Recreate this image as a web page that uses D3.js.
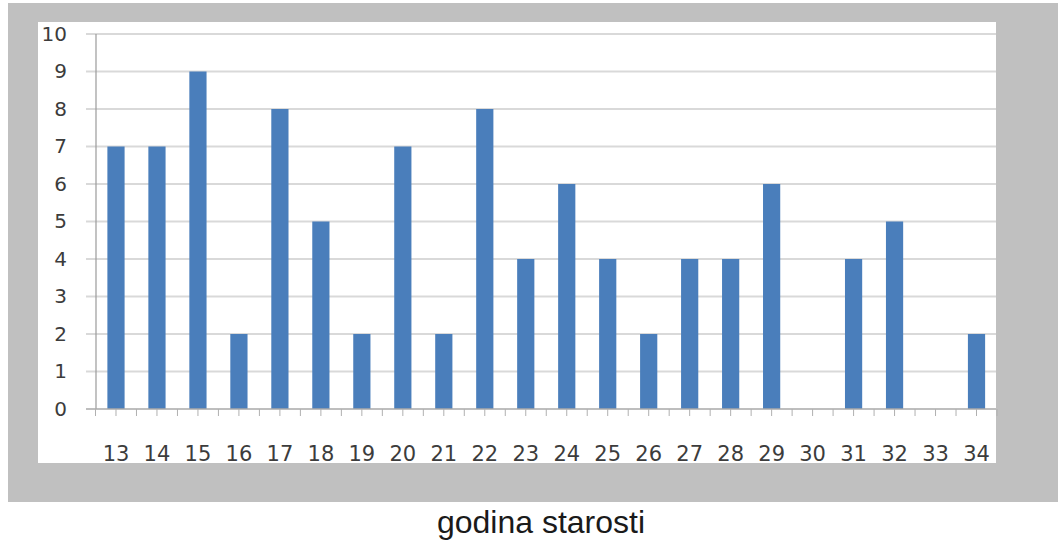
<!DOCTYPE html>
<html>
<head>
<meta charset="utf-8">
<script src="https://cdn.jsdelivr.net/npm/d3@7"></script>
<style>
  html, body { margin: 0; padding: 0; background: #ffffff; }
  svg { display: block; }
</style>
</head>
<body>
<svg id="chart" width="1058" height="540"></svg>
<script>
// ---- data ----
const categories = ["13","14","15","16","17","18","19","20","21","22","23","24","25","26","27","28","29","30","31","32","33","34"];
const values = [7, 7, 9, 2, 8, 5, 2, 7, 2, 8, 4, 6, 4, 2, 4, 4, 6, 0, 4, 5, 0, 2];
const yTicks = [0,1,2,3,4,5,6,7,8,9,10];
const axisTitle = "godina starosti";

// ---- layout ----
const svg = d3.select("#chart");
const W = 1058, H = 540;

// outer grey frame and inner white plot panel
svg.append("rect").attr("x", 8).attr("y", 3).attr("width", W - 8).attr("height", 499).attr("fill", "#c0c0c0");
svg.append("rect").attr("x", 38).attr("y", 22).attr("width", 958).attr("height", 441).attr("fill", "#ffffff");

const x = d3.scaleBand().domain(categories).range([95.5, 997]).paddingInner(0.58).paddingOuter(0.29);
const xb = d3.scaleBand().domain(categories).range([95.5, 997]).padding(0); // category boundaries
const y = d3.scaleLinear().domain([0, 10]).range([409, 34]);

// gridlines
svg.append("g").selectAll("line").data(yTicks.filter(d => d > 0)).join("line")
  .attr("x1", 86).attr("x2", 996)
  .attr("y1", d => y(d)).attr("y2", d => y(d))
  .attr("stroke", "#d9d9d9").attr("stroke-width", 2);

// y-axis line
svg.append("line").attr("x1", 96).attr("x2", 96).attr("y1", y(10)).attr("y2", y(0))
  .attr("stroke", "#9a9a9a").attr("stroke-width", 1.2);

// y tick labels
const yAxis = d3.axisLeft(y).tickValues(yTicks).tickSize(0).tickPadding(0).tickFormat(d3.format("d"));
const gy = svg.append("g").attr("transform", "translate(67,0)").call(yAxis);
gy.select(".domain").remove();
gy.selectAll("text").attr("font-family", "DejaVu Sans, sans-serif").attr("font-size", 20)
  .attr("fill", "#3c3c3c");

// bars
svg.append("g").selectAll("rect").data(values).join("rect")
  .attr("x", (d, i) => x(categories[i]))
  .attr("width", x.bandwidth())
  .attr("y", d => y(d))
  .attr("height", d => y(0) - y(d))
  .attr("fill", "#4a7ebb");

// x axis line
svg.append("line").attr("x1", 86).attr("x2", 996).attr("y1", y(0)).attr("y2", y(0))
  .attr("stroke", "#a8a8a8").attr("stroke-width", 1.5);

// x tick marks (category boundaries and centres)
const tickXs = [];
categories.forEach(c => { tickXs.push(xb(c)); tickXs.push(xb(c) + xb.bandwidth() / 2); });
tickXs.push(xb(categories[categories.length - 1]) + xb.bandwidth());
svg.append("g").selectAll("line").data(tickXs).join("line")
  .attr("x1", d => d).attr("x2", d => d).attr("y1", y(0)).attr("y2", y(0) + 7)
  .attr("stroke", "#b0b0b0").attr("stroke-width", 1);

// x tick labels
const xAxis = d3.axisBottom(xb).tickSize(0).tickPadding(0);
const gx = svg.append("g").attr("transform", "translate(0,446)").call(xAxis);
gx.select(".domain").remove();
gx.selectAll("text").attr("dy", null).attr("y", 0).attr("dominant-baseline", "hanging")
  .attr("font-family", "DejaVu Sans, sans-serif").attr("font-size", 21).attr("fill", "#3c3c3c");

// axis title below frame
svg.append("text").attr("x", 541).attr("y", 533).attr("text-anchor", "middle")
  .attr("font-family", "Liberation Sans, Arial, sans-serif").attr("font-size", 32)
  .attr("fill", "#1a1a1a").text(axisTitle);
</script>
</body>
</html>
